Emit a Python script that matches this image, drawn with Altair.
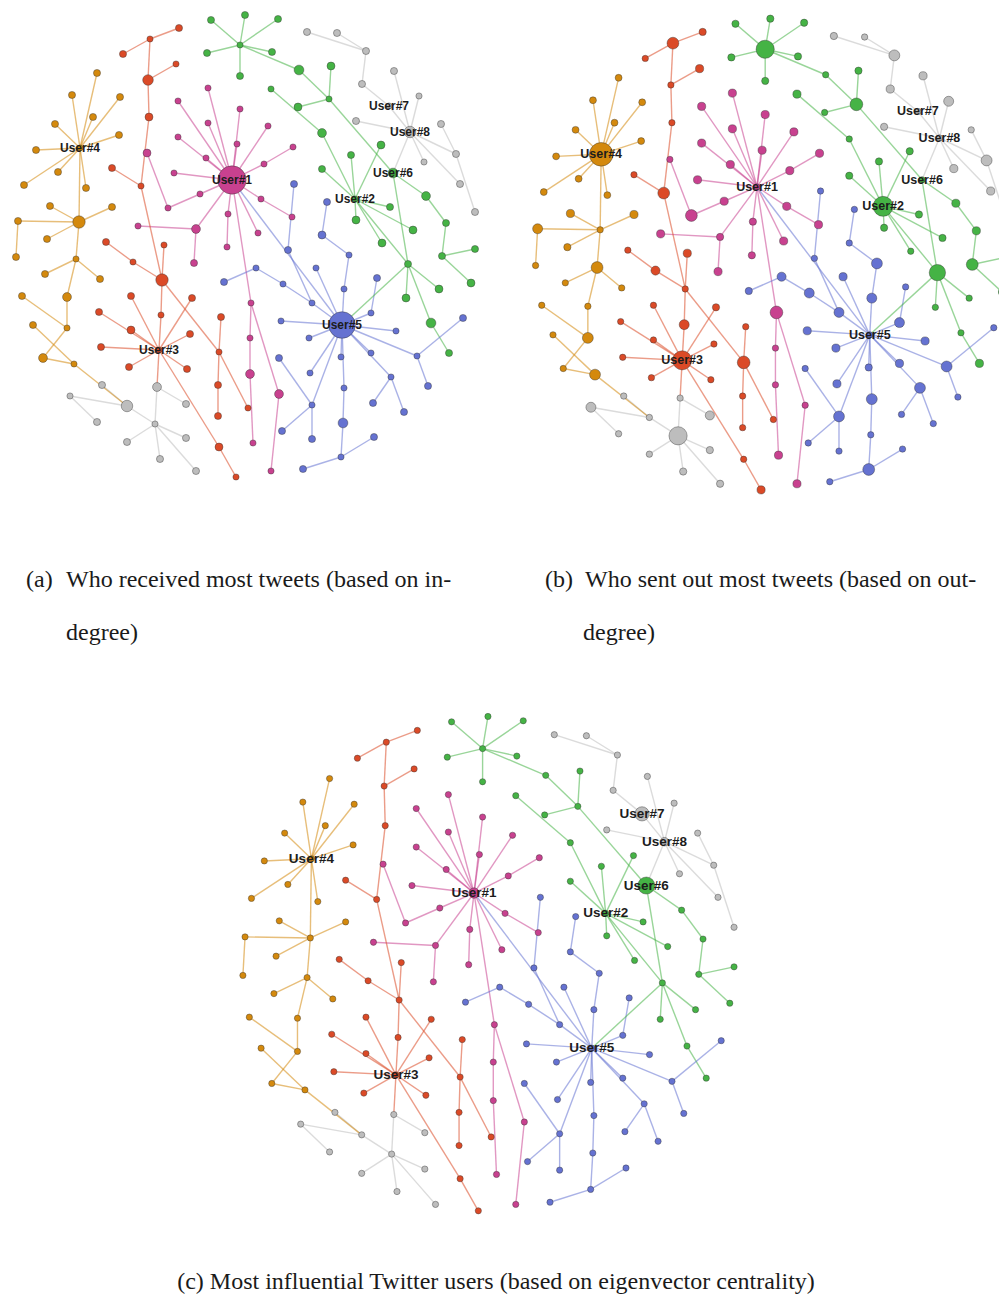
import altair as alt
import pandas as pd

# ---- node layout (shared by all three views), links and centrality radii ----
# LINK gives the index of the neighbour inside the same community (-1: none)

PINK_X = [232, 208, 178, 240, 208, 178, 237, 206, 174, 147, 200, 168, 138, 196, 228, 227, 268, 293, 264, 261,
          292, 258, 194, 251, 250, 250, 253, 279, 271]
PINK_Y = [180, 88, 101, 109, 123, 137, 144, 158, 173, 153, 194, 208, 226, 229, 214, 247, 126, 147, 164, 199,
          217, 233, 263, 303, 338, 374, 443, 394, 471]
PINK_LINK = [-1, 0, 0, 0, 0, 0, 0, 0, 0, 11, 0, 10, 13, 0, 0, 14, 0, 18, 0, 0, 19, 0, 13, 0, 23, 24, 25, 23, 27]
PINK_R_IN = [16, 3.5, 3.5, 3.5, 3.5, 3.5, 3.5, 3.5, 3.5, 4.5, 3.5, 3.5, 3.5, 5, 3.5, 3.5, 3.5, 3.5, 3.5, 3.5,
             3.5, 3.5, 4, 3.5, 3.5, 5, 3.5, 5, 3.5]
PINK_R_OUT = [3.5, 4.5, 4.5, 4.5, 4.5, 4.5, 4.5, 4.5, 4.5, 3.5, 4.5, 6.5, 4.5, 4, 4, 4, 4.5, 4.5, 4.5, 4.5,
              4.5, 4.5, 4.5, 7, 3.5, 3.5, 4.5, 3.5, 4.5]
PINK_R_EIG = [5.5] + [3.3] * 28

RED_X = [159, 179, 150, 123, 176, 148, 149, 141, 112, 106, 133, 162, 164, 161, 221, 219, 218, 218, 248, 131,
         192, 99, 131, 190, 101, 129, 187, 219, 236]
RED_Y = [350, 28, 39, 54, 64, 80, 117, 186, 168, 242, 262, 280, 245, 315, 317, 352, 385, 416, 408, 296,
         298, 312, 330, 334, 347, 367, 369, 447, 477]
RED_LINK = [-1, 2, 5, 2, 5, 6, 7, 11, 7, 10, 11, 13, 11, 0, 15, 11, 15, 16, 15, 0, 0, 0, 0, 0, 0, 0, 0, 0, 27]
RED_R_IN = [3.5, 4, 3.5, 4, 3.5, 6, 4.5, 3.5, 4, 4, 3.5, 7, 3.5, 3.5, 4, 3.5, 4, 4, 3.5, 4,
            4, 4, 4.5, 4, 4, 4, 4, 4.5, 3.5]
RED_R_OUT = [10.5, 4, 6.5, 3.5, 4.5, 3.5, 3.5, 6.5, 3.5, 3.5, 5, 3.5, 4.5, 5.5, 3.5, 7, 3.5, 3.5, 3.5, 3.5,
             4, 3.5, 3.5, 3.5, 3.5, 3.5, 3.5, 3.5, 4.5]
RED_R_EIG = [3.3] * 29

ORANGE_X = [80, 97, 72, 120, 93, 55, 119, 36, 58, 24, 86, 79, 50, 112, 18, 47, 16, 76, 45, 100, 67, 67, 22, 33, 43, 74]
ORANGE_Y = [148, 73, 95, 97, 117, 124, 135, 150, 172, 185, 188, 222, 206, 207, 221, 239, 257, 259, 274, 279,
            297, 328, 296, 325, 358, 364]
ORANGE_LINK = [-1, 0, 0, 0, 0, 0, 0, 0, 0, 0, 0, 0, 11, 11, 11, 11, 14, 11, 17, 17, 17, 20, 21, 25, 21, 24]
ORANGE_R_IN = [3.5, 4, 4, 4, 4, 4, 4, 4, 4, 4, 4, 7, 4, 4, 4, 4, 4, 3.5, 4, 4, 5, 3.5, 4, 4, 5, 3.5]
ORANGE_R_OUT = [13, 3.8, 3.8, 3.8, 3.8, 3.8, 3.8, 3.8, 3.8, 3.8, 3.8, 3.5, 4.5, 4.5, 5.5, 4, 3.5, 6.5, 3.5, 3.5,
                3.5, 6, 3.5, 3.5, 3.5, 6]
ORANGE_R_EIG = [3.3] * 26

GREYSW_X = [155, 102, 157, 70, 127, 186, 97, 127, 186, 160, 196]
GREYSW_Y = [424, 385, 387, 396, 406, 404, 422, 442, 438, 459, 471]
GREYSW_LINK = [-1, 4, 0, 4, 0, 2, 3, 0, 0, 0, 0]
GREYSW_R_IN = [3.5, 4, 5, 3.5, 6.5, 4, 4, 4, 4, 4, 4]
GREYSW_R_OUT = [10, 3.5, 3.5, 5.5, 3.5, 5, 3.5, 3.5, 4, 4, 4]
GREYSW_R_EIG = [3.3] * 11

GREEN_X = [355, 240, 211, 245, 278, 207, 272, 240, 299, 331, 329, 298, 271, 322, 351, 381, 322, 393, 356, 390,
           413, 382, 426, 446, 408, 442, 475, 439, 471, 406, 431, 449]
GREEN_Y = [199, 45, 20, 15, 19, 53, 52, 76, 70, 66, 99, 107, 89, 133, 155, 145, 169, 173, 220, 207,
           230, 243, 196, 223, 264, 256, 249, 289, 283, 298, 323, 353]
GREEN_LINK = [-1, 8, 1, 1, 1, 1, 1, 1, 10, 10, 17, 10, 13, 0, 0, 0, 0, 24, 0, 0,
              0, 0, 17, 22, 0, 23, 25, 24, 25, 24, 24, 30]
GREEN_R_IN = [3.5, 3.5, 4, 4, 4, 4, 4, 4, 5.5, 4.5, 3.5, 4.5, 3.5, 5, 4, 4.5, 4, 5.5, 4.5, 4,
              4.5, 4.5, 5, 4, 4, 4, 4, 4.5, 4.5, 4.5, 5.5, 4]
GREEN_R_OUT = [11, 10, 4, 4, 4, 4, 4, 4, 3.5, 4, 7, 3.5, 4.5, 3.5, 4, 4, 4, 3.5, 4, 4,
               4, 3.5, 4.5, 4.5, 9, 6.5, 4, 3.5, 4, 3.5, 3.5, 4.5]
GREEN_R_EIG = [3.3] * 17 + [9] + [3.3] * 14

GREYNE_X = [410, 307, 337, 366, 362, 394, 419, 389, 356, 441, 424, 456, 460, 475]
GREYNE_Y = [132, 32, 33, 51, 84, 71, 96, 106, 121, 124, 162, 154, 184, 212]
GREYNE_LINK = [-1, 3, 3, 4, 7, 0, 0, 0, 0, 11, 0, 0, 0, 11]
GREYNE_R_IN = [6.5, 4, 4, 4, 4, 4, 3.5, 3.5, 4, 4, 3.5, 4, 4, 4]
GREYNE_R_OUT = [3.5, 4, 3.5, 6, 4.5, 4.5, 5.5, 3.5, 4, 3.5, 4.5, 6, 4.5, 4]
GREYNE_R_EIG = [4.5, 3.3, 3.3, 3.3, 3.3, 3.3, 3.3, 7.5, 3.3, 3.3, 3.3, 3.3, 3.3, 3.3]

BLUE_X = [342, 294, 327, 322, 288, 316, 349, 256, 283, 344, 312, 377, 371, 281, 396, 309, 341, 371, 279, 417,
          463, 310, 391, 428, 344, 312, 373, 404, 343, 282, 312, 374, 341, 303, 224]
BLUE_Y = [325, 184, 202, 235, 250, 268, 255, 268, 284, 289, 303, 278, 313, 321, 331, 338, 357, 353, 358, 356,
          318, 373, 377, 386, 388, 405, 403, 412, 423, 431, 439, 437, 457, 469, 282]
BLUE_LINK = [-1, 4, 3, 6, 10, 0, 9, 8, 10, 0, 0, 12, 0, 0, 0, 0, 0, 0, 25, 0,
             19, 0, 0, 19, 0, 0, 22, 22, 24, 25, 25, 32, 28, 32, 7]
BLUE_R_IN = [15, 4, 4, 4.5, 4, 3.5, 3.5, 3.5, 3.5, 3.5, 3.5, 4, 3.5, 3.5, 3.5, 3.5, 3.5, 3.5, 4, 3.5,
             4, 3.5, 3.5, 4, 3.5, 3.5, 4, 4, 5.5, 4, 4, 4, 3.5, 4, 4]
BLUE_R_OUT = [3.5, 3.5, 3.5, 3.5, 3.5, 4.5, 6, 5, 5.5, 5.5, 5.5, 3.5, 5.5, 4.5, 4.5, 4.5, 4, 4.5, 3.5, 6,
              3.5, 4.5, 6, 3.5, 6, 6, 3.5, 3.5, 3.5, 3.5, 3.5, 3.5, 6.5, 3.5, 4]
BLUE_R_EIG = [3.3] * 35

# links between communities: (community, index, community, index, colour of the link)
CROSS_LINKS = [
    ("pink", 0, "blue", 0, "blue"),
    ("orange", 25, "greysw", 4, "orange"),
    ("red", 0, "greysw", 2, "red"),
    ("greyne", 0, "green", 17, "greyne"),
    ("blue", 0, "green", 24, "green"),
]

USER_LABELS = {
    ("pink", 0): "User#1", ("green", 0): "User#2", ("red", 0): "User#3", ("orange", 0): "User#4",
    ("blue", 0): "User#5", ("green", 17): "User#6", ("greyne", 7): "User#7", ("greyne", 0): "User#8",
}

CAPTION_A = ["(a)", "Who received most tweets (based on in-", "degree)"]
CAPTION_B = ["(b)", "Who sent out most tweets (based on out-", "degree)"]
CAPTION_C = "(c) Most influential Twitter users (based on eigenvector centrality)"

PALETTE = {
    "pink": "#c8418f", "red": "#db4a27", "orange": "#d4890d", "greysw": "#bdbdbd",
    "green": "#45b345", "greyne": "#bdbdbd", "blue": "#6572d1",
}

COMMUNITIES = {
    "pink": (PINK_X, PINK_Y, PINK_LINK, PINK_R_IN, PINK_R_OUT, PINK_R_EIG),
    "red": (RED_X, RED_Y, RED_LINK, RED_R_IN, RED_R_OUT, RED_R_EIG),
    "orange": (ORANGE_X, ORANGE_Y, ORANGE_LINK, ORANGE_R_IN, ORANGE_R_OUT, ORANGE_R_EIG),
    "greysw": (GREYSW_X, GREYSW_Y, GREYSW_LINK, GREYSW_R_IN, GREYSW_R_OUT, GREYSW_R_EIG),
    "green": (GREEN_X, GREEN_Y, GREEN_LINK, GREEN_R_IN, GREEN_R_OUT, GREEN_R_EIG),
    "greyne": (GREYNE_X, GREYNE_Y, GREYNE_LINK, GREYNE_R_IN, GREYNE_R_OUT, GREYNE_R_EIG),
    "blue": (BLUE_X, BLUE_Y, BLUE_LINK, BLUE_R_IN, BLUE_R_OUT, BLUE_R_EIG),
}

# ---- tables ----
node_rows, edge_rows, where = [], [], {}
for comm, (xs, ys, links, r_in, r_out, r_eig) in COMMUNITIES.items():
    for i in range(len(xs)):
        where[(comm, i)] = (xs[i], ys[i])
        node_rows.append(dict(comm=comm, x=xs[i], y=ys[i], r_in=r_in[i], r_out=r_out[i], r_eig=r_eig[i],
                              label=USER_LABELS.get((comm, i), "")))
for comm, (xs, ys, links, *_rest) in COMMUNITIES.items():
    for i, j in enumerate(links):
        if j >= 0:
            edge_rows.append(dict(comm=comm, x=xs[i], y=ys[i], x2=xs[j], y2=ys[j]))
for c1, i1, c2, i2, col in CROSS_LINKS:
    (ax, ay), (bx, by) = where[(c1, i1)], where[(c2, i2)]
    edge_rows.append(dict(comm=col, x=ax, y=ay, x2=bx, y2=by))

nodes = pd.DataFrame(node_rows)
edges = pd.DataFrame(edge_rows)

colour = alt.Color("comm:N", legend=None,
                   scale=alt.Scale(domain=list(PALETTE), range=list(PALETTE.values())))


def caption(text, x, y, size=24, align="left"):
    return alt.Chart(pd.DataFrame({"t": [text]})).mark_text(
        font="Liberation Serif", fontSize=size, align=align, baseline="alphabetic", color="#1a1a1a"
    ).encode(text="t:N", x=alt.value(x), y=alt.value(y))


def network(metric, k, xdom, ydom, width, height, label_size, extra):
    xs = alt.Scale(domain=xdom, nice=False, zero=False)
    ys = alt.Scale(domain=ydom, nice=False, zero=False, reverse=True)
    ex = alt.X("x:Q", scale=xs, axis=None)
    ey = alt.Y("y:Q", scale=ys, axis=None)
    links = alt.Chart(edges).mark_rule(strokeWidth=1.4, opacity=0.55, clip=True).encode(
        x=ex, y=ey, x2="x2:Q", y2="y2:Q", color=colour)
    dots = alt.Chart(nodes).transform_calculate(
        area=f"PI * pow(datum.{metric} * {k}, 2)"
    ).mark_circle(opacity=1, stroke="#333333", strokeWidth=0.7, strokeOpacity=0.6, clip=True).encode(
        x=ex, y=ey, size=alt.Size("area:Q", scale=None), color=colour, order=alt.Order(f"{metric}:Q"))
    names = alt.Chart(nodes).transform_filter("datum.label != ''").mark_text(
        font="Liberation Sans", fontWeight="bold", fontSize=label_size, color="#1c1c1c", clip=True
    ).encode(x=ex, y=ey, text="label:N")
    return alt.layer(links, dots, names, *extra).properties(width=width, height=height)


panel_a = network("r_in", 1.0, [0, 520], [0, 660], 520, 660, 12, [
    caption(CAPTION_A[0], 26, 587), caption(CAPTION_A[1], 66, 587), caption(CAPTION_A[2], 66, 640)])
panel_b = network("r_out", 1.025, [0.8, 468.1], [-3.3, 643.8], 479, 660, 12.5, [
    caption(CAPTION_B[0], 25, 587), caption(CAPTION_B[1], 65, 587), caption(CAPTION_B[2], 63, 640)])
panel_c = network("r_eig", 1.07, [-211, 722.6], [-37.8, 558.5], 999, 638, 13.5, [
    caption(CAPTION_C, 496, 629, size=24, align="center")])

chart = alt.vconcat(
    alt.hconcat(panel_a, panel_b, spacing=0, bounds="flush"),
    panel_c, spacing=0,
).properties(padding=0, background="white").configure_view(stroke=None)

chart.save("out.html", embed_options={"renderer": "svg", "actions": False})
